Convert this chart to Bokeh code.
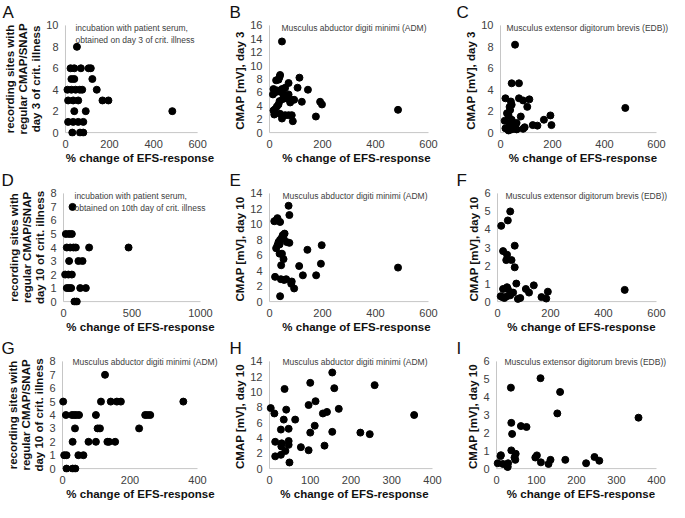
from bokeh.plotting import figure
from bokeh.models import Range1d, FixedTicker, Label, Title
from bokeh.layouts import column, row
from bokeh.embed import file_html
from bokeh.resources import INLINE

FONT = "Liberation Sans"
XTITLE = "% change of EFS-response"

# ---------------- data ----------------
# A: recording sites, day 3 serum
a_x = [52, 23, 40, 70, 105, 115, 27, 40, 122, 9, 27, 46, 65, 76, 142,
       12, 35, 58, 168, 195, 40, 92, 485, 12, 35, 58, 81, 31, 66, 81]
a_y = [8, 6, 6, 6, 6, 6, 5, 5, 5, 4, 4, 4, 4, 4, 4,
       3, 3, 3, 3, 3, 2, 2, 2, 1, 1, 1, 1, 0, 0, 0]
# B: ADM CMAP day 3
b_x = [47, 40, 38, 113, 25, 34, 72, 106, 145, 15, 28, 47, 59, 13, 21, 72, 40, 53,
       38, 50, 65, 75, 93, 122, 191, 198, 78, 34, 28, 21, 15, 40, 18, 59, 72, 84,
       47, 175, 88, 485]
b_y = [13.6, 8.6, 8.3, 8.2, 7.8, 7.9, 7.4, 6.7, 6.4, 6.5, 6.3, 6.5, 6.7, 5.7, 6.0, 5.7, 6.1, 5.7,
       4.7, 5.0, 5.1, 5.1, 4.9, 4.6, 4.6, 4.2, 4.5, 4.2, 3.9, 3.5, 3.3, 2.8, 2.7, 2.6, 2.6, 2.6,
       2.1, 2.4, 1.7, 3.4]
# C: EDB CMAP day 3
c_x = [56, 43, 71, 19, 71, 87, 111, 103, 40, 43, 35, 37, 25, 31, 78, 43, 16, 167, 192,
       19, 33, 50, 56, 62, 31, 43, 87, 93, 124, 142, 196, 480, 37, 62]
c_y = [8.2, 4.6, 4.6, 3.2, 3.2, 3.0, 3.1, 2.4, 2.9, 2.6, 2.4, 2.1, 1.8, 1.6, 1.5, 1.2, 1.1, 1.2, 1.6,
       0.4, 0.6, 0.6, 0.4, 0.3, 0.2, 0.3, 0.35, 0.5, 0.7, 0.65, 0.7, 2.3, 0.9, 0.9]
# D: recording sites, day 10 serum
d_x = [66, 17, 41, 61, 24, 49, 73, 90, 187, 475, 41, 109, 139, 12, 36, 61, 24, 40, 56, 122, 163, 80, 97]
d_y = [7, 5, 5, 5, 4, 4, 4, 4, 4, 4, 3, 3, 3, 2, 2, 2, 1, 1, 1, 1, 1, 0, 0]
# E: ADM CMAP day 10
e_x = [72, 75, 30, 18, 25, 40, 50, 57, 53, 40, 47, 34, 38, 65, 75, 25, 30, 197, 143, 38, 47, 53,
       44, 112, 194, 485, 126, 176, 21, 43, 55, 63, 84, 82, 93, 40]
e_y = [12.4, 11.2, 10.8, 10.4, 10.5, 10.3, 8.6, 8.8, 8.2, 8.0, 8.3, 7.7, 7.4, 7.7, 7.6, 6.9, 7.3, 7.3,
       6.7, 6.2, 6.2, 5.5, 4.7, 4.6, 4.9, 4.4, 3.4, 3.4, 3.2, 2.9, 2.8, 2.9, 2.6, 2.3, 1.7, 0.7]
# F: EDB CMAP day 10
f_x = [48, 39, 14, 65, 21, 36, 33, 53, 65, 71, 137, 107, 480, 21, 36, 39, 119, 190, 53, 59,
       12, 18, 26, 36, 48, 77, 86, 166, 184]
f_y = [5.0, 4.5, 4.2, 3.1, 2.8, 2.6, 2.3, 2.3, 1.9, 1.0, 0.9, 0.7, 0.65, 0.7, 0.8, 0.7, 0.5, 0.55, 0.5, 0.5,
       0.3, 0.25, 0.2, 0.3, 0.35, 0.15, 0.2, 0.25, 0.17]
# G: recording sites (ADM)
g_x = [2, 114, 143, 161, 173, 358, 126, 10, 28, 35, 41, 49, 99, 245, 252, 260,
       37, 104, 111, 227, 30, 77, 99, 133, 138, 156, 5, 12, 47, 62, 12, 30, 38]
g_y = [5, 5, 5, 5, 5, 5, 7, 4, 4, 4, 4, 4, 4, 4, 4, 4,
       3, 3, 3, 3, 2, 2, 2, 2, 2, 2, 1, 1, 1, 1, 0, 0, 0]
# H: ADM CMAP day 10
h_x = [154, 100, 258, 37, 159, 113, 96, 3, 170, 41, 141, 131, 12, 355, 35, 63, 28, 47, 111, 100,
       154, 223, 246, 14, 47, 47, 30, 29, 135, 77, 39, 96, 28, 14, 49]
h_y = [12.55, 11.2, 10.9, 10.4, 10.5, 8.8, 8.3, 7.9, 7.8, 7.7, 7.4, 7.2, 7.2, 7.0, 6.4, 6.4, 5.1, 5.2, 5.6, 4.7,
       4.8, 4.7, 4.5, 3.5, 3.6, 3.1, 3.3, 2.9, 3.0, 2.8, 2.3, 2.4, 1.8, 1.6, 0.8]
# I: EDB CMAP day 10
i_x = [110, 36, 159, 152, 355, 3, 10, 11, 16, 25, 27, 29, 28, 37, 39, 37, 48, 45, 47, 61, 75,
       97, 101, 111, 130, 135, 172, 224, 245, 257]
i_y = [5.06, 4.53, 4.29, 3.09, 2.85, 0.3, 0.7, 0.75, 0.26, 0.23, 0.12, 0.3, 0.09, 2.56, 1.94, 1.02, 0.83, 0.62, 0.49, 2.38, 2.33,
       0.62, 0.74, 0.35, 0.26, 0.49, 0.49, 0.3, 0.65, 0.44]

# tick labels
x600 = [0, 200, 400, 600]
x1000 = [0, 500, 1000]
x400a = [0, 200, 400]
x400b = [0, 100, 200, 300, 400]
y10 = [0, 2, 4, 6, 8, 10]
y16 = [0, 2, 4, 6, 8, 10, 12, 14, 16]
y8 = [0, 1, 2, 3, 4, 5, 6, 7, 8]
y14 = [0, 2, 4, 6, 8, 10, 12, 14]
y6 = [0, 1, 2, 3, 4, 5, 6]

SITES3 = "recording sites with\nregular CMAP/SNAP\nday 3 of crit. illness"
SITES10 = "recording sites with\nregular CMAP/SNAP\nday 10 of crit. illness"
NOTE3 = "incubation with patient serum,\nobtained on day 3 of crit. illness"
NOTE10 = "incubation with patient serum,\nobtained on 10th day of crit. illness"
ADM = "Musculus abductor digiti minimi (ADM)"
EDB = "Musculus extensor digitorum brevis (EDB))"

PAD = 4   # px below/left of zero so dots at 0 are not cut
TP = 4    # px above the top tick inside the frame


def panel(letter, xs, ys, xticks, yticks, ytitle, note,
          W, bl, dw, br, H, bt, dh, bb, note_dx, note_dy):
    fw = W - bl - br
    fh = H - bt - bb
    rp = fw - PAD - dw
    xmax = xticks[-1]
    ymax = yticks[-1]
    u = xmax / dw
    v = ymax / dh
    p = figure(width=W, height=H, title=None,
               min_border_left=bl, min_border_right=br,
               min_border_top=bt, min_border_bottom=bb,
               x_range=Range1d(-PAD * u, xmax + rp * u),
               y_range=Range1d(-PAD * v, ymax + TP * v),
               output_backend="svg", toolbar_location=None, tools="")
    p.xaxis.ticker = FixedTicker(ticks=xticks)
    p.yaxis.ticker = FixedTicker(ticks=yticks)
    for ax in (p.xaxis[0], p.yaxis[0]):
        ax.axis_line_color = None
        ax.major_tick_line_color = None
        ax.minor_tick_line_color = None
        ax.major_tick_out = 0
        ax.major_tick_in = 0
        ax.minor_tick_out = 0
        ax.major_label_text_font = FONT
        ax.major_label_text_font_size = "11px"
        ax.major_label_text_color = "#404040"
        ax.axis_label_text_font = FONT
        ax.axis_label_text_font_style = "bold"
        ax.axis_label_text_font_size = "11.5px"
        ax.axis_label_text_color = "#111111"
        ax.major_label_standoff = 3
        ax.axis_label_standoff = 1
    p.xaxis.axis_label = XTITLE
    p.yaxis.axis_label = ytitle
    p.yaxis.axis_label_text_line_height = 1.1
    p.grid.visible = False
    p.outline_line_color = None
    p.background_fill_color = "white"
    p.border_fill_color = "white"
    # axis lines (L-shaped, from the tick extents)
    p.line([xticks[0], xticks[-1]], [yticks[0], yticks[0]], line_color="#c6c6c6", line_width=1)
    p.line([xticks[0], xticks[0]], [yticks[0], yticks[-1]], line_color="#c6c6c6", line_width=1)
    p.scatter(xs, ys, size=7, fill_color="black", line_color="black")
    p.add_layout(Label(x=0, y=ymax, x_offset=note_dx, y_offset=note_dy, text=note,
                       text_font=FONT, text_font_size="8.5px", text_color="#404040",
                       text_baseline="top", text_align="left", text_line_height=1.15))
    p.add_layout(Title(text=letter, align="left", offset=1 - bl, standoff=0,
                       vertical_align="bottom", text_font=FONT, text_font_size="17px",
                       text_font_style="normal", text_color="#111111"), "above")
    return p


R1 = dict(H=168, bt=18, dh=110, bb=32)
R2 = dict(H=168, bt=18, dh=111, bb=31)
R3 = dict(H=166, bt=18, dh=110, bb=30)

pA = panel("A", a_x, a_y, x600, y10, SITES3, NOTE3, W=228, bl=60, dw=133, br=10, note_dx=10, note_dy=2, **R1)
pB = panel("B", b_x, b_y, x600, y16, "CMAP  [mV], day 3", ADM, W=227, bl=37, dw=159, br=8, note_dx=12, note_dy=2, **R1)
pC = panel("C", c_x, c_y, x600, y10, "CMAP  [mV], day 3", EDB, W=214, bl=41, dw=156, br=0, note_dx=6, note_dy=2, **R1)

pD = panel("D", d_x, d_y, x1000, y8, SITES10, NOTE10, W=228, bl=59, dw=137, br=7, note_dx=11, note_dy=2, **R2)
pE = panel("E", e_x, e_y, x600, y14, "CMAP  [mV], day 10", ADM, W=227, bl=37, dw=159, br=8, note_dx=13, note_dy=2, **R2)
pF = panel("F", f_x, f_y, x600, y6, "CMAP  [mV], day 10", EDB, W=214, bl=38, dw=159, br=0, note_dx=8, note_dy=2, **R2)

pG = panel("G", g_x, g_y, x400a, y8, SITES10, ADM, W=228, bl=58, dw=135, br=6, note_dx=10, note_dy=4, **R3)
pH = panel("H", h_x, h_y, x400b, y14, "CMAP  [mV], day 10", ADM, W=227, bl=37, dw=163, br=12, note_dx=13, note_dy=4, **R3)
pI = panel("I", i_x, i_y, x400b, y6, "CMAP  [mV], day 10", EDB, W=214, bl=37, dw=160, br=0, note_dx=8, note_dy=4, **R3)

layout = column(row(pA, pB, pC), row(pD, pE, pF), row(pG, pH, pI))

open("out.html", "w").write(file_html(layout, INLINE))
